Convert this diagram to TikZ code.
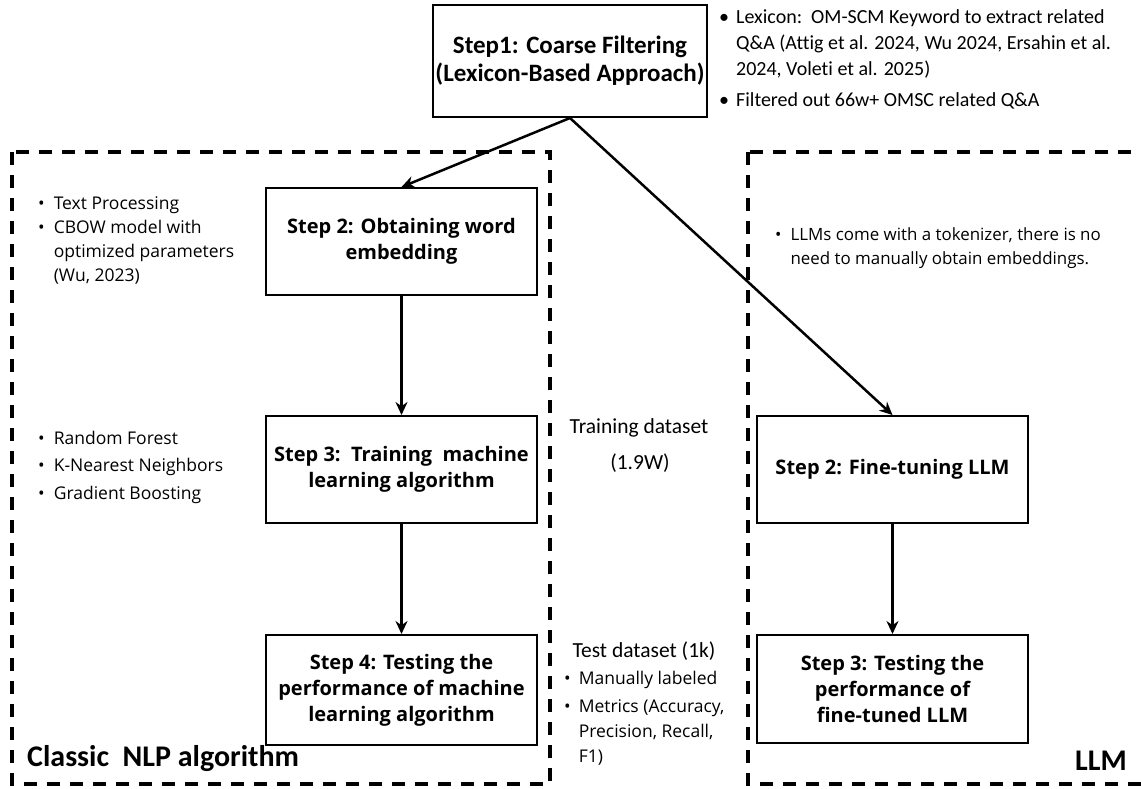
\documentclass[tikz,border=0pt]{standalone}
\usepackage{fontspec}
\setmainfont{Open Sans}
\newfontfamily\calfont[Ligatures=CommonOff]{Carlito}
\usetikzlibrary{arrows.meta}
\usetikzlibrary{positioning}

% bullet list: one row per line, \bl starts a new item
\newcommand{\bl}{\textbullet}
\tikzset{
	stepbox/.style={draw, line width=2pt, minimum width=271pt, minimum height=107pt, align=center, inner sep=2pt, font=\bfseries\fontsize{20}{26}\selectfont},
	groupbox/.style={line width=4pt, dash pattern=on 13pt off 10pt},
	flow/.style={line width=2.5pt, -{Stealth[length=13pt,width=12pt]}},
	note/.style={anchor=north west, inner sep=0pt, align=left, font=\fontsize{17.5}{24}\selectfont},
	calnote/.style={inner sep=0pt, font=\calfont\fontsize{21.5}{24}\selectfont}
}

\begin{document}
\begin{tikzpicture}[x=1pt, y=-1pt]
	% page: 1141 x 788 px
	\useasboundingbox (0,0) rectangle (1141,788);
	\clip (0,0) rectangle (1141,788);

	% groups
	\draw[groupbox] (12,152) rectangle (550,784);
	\draw[groupbox] (748,152) rectangle (1170,784);
	\node[anchor=west, inner sep=0pt, font=\calfont\bfseries\fontsize{30}{32}\selectfont] (classic) at (27,759) {Classic\ \ NLP algorithm};
	\node[anchor=east, inner sep=0pt, font=\calfont\bfseries\fontsize{30}{32}\selectfont] (llm) at (1127,761) {LLM};

	% steps
	\node[stepbox, minimum width=274pt, minimum height=112pt, font=\calfont\bfseries\fontsize{25}{28}\selectfont] (filter) at (570,61) {Step1: Coarse Filtering\\(Lexicon-Based Approach)};
	\node[stepbox] (embed) at (401.5,241.5) {Step 2: Obtaining word\\embedding};
	\node[stepbox] (train) at (401.5,469.5) {Step 3:\ \ Training\ \ machine\\learning algorithm};
	\node[stepbox, minimum height=110pt] (test) at (401.5,690) {Step 4: Testing the\\performance of machine\\learning algorithm};
	\node[stepbox] (tune) at (892.5,469.5) {Step 2: Fine-tuning LLM};
	\node[stepbox, minimum height=108pt] (eval) at (892.5,689) {Step 3: Testing the\\performance of\\fine-tuned LLM};

	% connectors
	\draw[flow] (filter.south) -- (embed.north);
	\draw[flow] (filter.south) -- (tune.north);
	\draw[flow] (embed) -- (train);
	\draw[flow] (train) -- (test);
	\draw[flow] (tune) -- (eval);

	% notes
	\node[note, font=\calfont\fontsize{20}{26}\selectfont] (lexnote) at (719,5) {%
		\begin{tabular}{@{}l@{\hspace{7pt}}l@{}}
		\bl & Lexicon:\ \ OM-SCM Keyword to extract related\\
		    & Q\&A (Attig et al. 2024, Wu 2024, Ersahin et al.\\
		    & 2024, Voleti et al. 2025)\\[5pt]
		\bl & Filtered out 66w+ OMSC related Q\&A
		\end{tabular}};
	\node[note] (embnote) at (38,192) {%
		\begin{tabular}{@{}l@{\hspace{9pt}}l@{}}
		\bl & Text Processing\\
		\bl & CBOW model with\\
		    & optimized parameters\\
		    & (Wu, 2023)
		\end{tabular}};
	\node[note, font=\fontsize{16.9}{24}\selectfont] (tokennote) at (775,223) {%
		\begin{tabular}{@{}l@{\hspace{9pt}}l@{}}
		\bl & LLMs come with a tokenizer, there is no\\
		    & need to manually obtain embeddings.
		\end{tabular}};
	\node[note, font=\fontsize{17.5}{27.5}\selectfont] (algnote) at (38,425) {%
		\begin{tabular}{@{}l@{\hspace{9pt}}l@{}}
		\bl & Random Forest\\
		\bl & K-Nearest Neighbors\\
		\bl & Gradient Boosting
		\end{tabular}};
	\node[calnote] (trainset) at (639,428) {Training dataset};
	\node[calnote] (trainsize) at (640,463) {(1.9W)};
	\node[calnote] (testset) at (644,651) {Test dataset (1k)};
	\node[note, font=\fontsize{17.5}{25}\selectfont] (testnote) at (564,667) {%
		\begin{tabular}{@{}l@{\hspace{8pt}}l@{}}
		\bl & Manually labeled\\[3pt]
		\bl & Metrics (Accuracy,\\
		    & Precision, Recall,\\
		    & F1)
		\end{tabular}};
\end{tikzpicture}
\end{document}
